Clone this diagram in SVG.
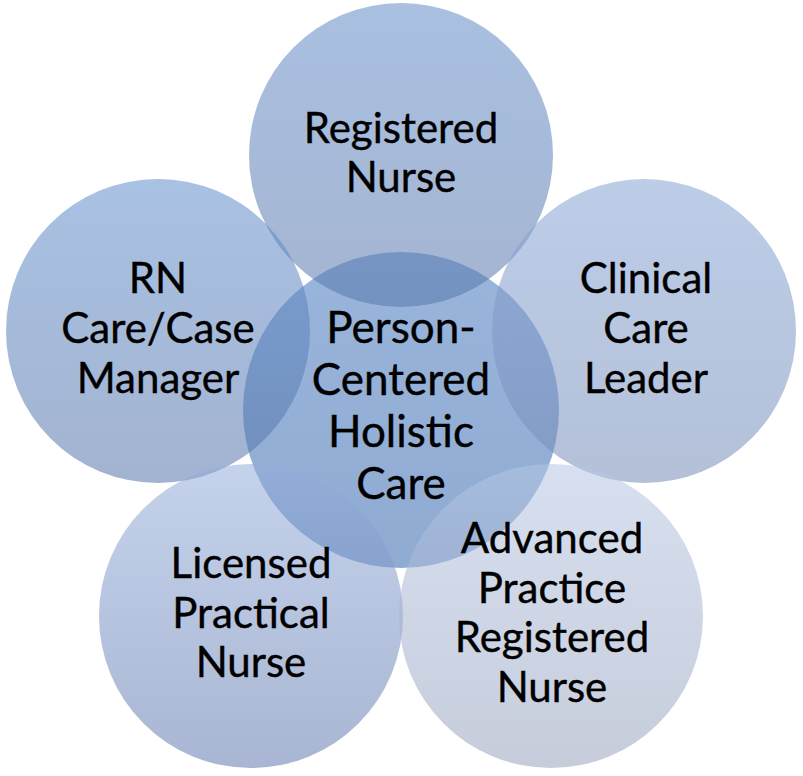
<svg xmlns="http://www.w3.org/2000/svg" width="803" height="776" viewBox="0 0 803 776">
  <defs>
    <linearGradient id="gTop" x1="0" y1="0" x2="0" y2="1">
      <stop offset="0" stop-color="#638cc8"/>
      <stop offset="1" stop-color="#5877ab"/>
    </linearGradient>
    <linearGradient id="gLeft" x1="0" y1="0" x2="0" y2="1">
      <stop offset="0" stop-color="#628ecc"/>
      <stop offset="1" stop-color="#5675aa"/>
    </linearGradient>
    <linearGradient id="gRight" x1="0" y1="0" x2="0" y2="1">
      <stop offset="0" stop-color="#87a4d5"/>
      <stop offset="1" stop-color="#758cb8"/>
    </linearGradient>
    <linearGradient id="gBL" x1="0" y1="0" x2="0" y2="1">
      <stop offset="0" stop-color="#94addb"/>
      <stop offset="1" stop-color="#617aaf"/>
    </linearGradient>
    <linearGradient id="gBR" x1="0" y1="0" x2="0" y2="1">
      <stop offset="0" stop-color="#b6c7e4"/>
      <stop offset="1" stop-color="#97a2bc"/>
    </linearGradient>
    <linearGradient id="gCenter" x1="0" y1="0" x2="0" y2="1">
      <stop offset="0" stop-color="#99b5db"/>
      <stop offset="1" stop-color="#8fabd2"/>
    </linearGradient>
  </defs>
  <style>
    .outer { fill-opacity: 0.55; }
    .lbl { font-family: Lato, "Liberation Sans", sans-serif; font-size: 42px; fill: #000; text-anchor: middle; stroke: #000; stroke-width: 0.4px; }
    .clbl { font-family: Lato, "Liberation Sans", sans-serif; font-size: 44px; fill: #000; text-anchor: middle; stroke: #000; stroke-width: 0.4px; }
  </style>
  <rect width="803" height="776" fill="#ffffff"/>
  <g id="connectors"></g>
  <g id="node-center">
    <circle cx="401" cy="410" r="158" fill="url(#gCenter)"/>
    <text class="clbl" x="401" y="343">Person-</text>
    <text class="clbl" x="401" y="395">Centered</text>
    <text class="clbl" x="401" y="447">Holistic</text>
    <text class="clbl" x="401" y="499">Care</text>
  </g>
  <g id="node-top">
    <circle class="outer" cx="401" cy="155" r="152" fill="url(#gTop)"/>
    <text class="lbl" x="401" y="143">Registered</text>
    <text class="lbl" x="401" y="192">Nurse</text>
  </g>
  <g id="node-left">
    <circle class="outer" cx="158" cy="331" r="152" fill="url(#gLeft)"/>
    <text class="lbl" x="158" y="293">RN</text>
    <text class="lbl" x="158" y="343">Care/Case</text>
    <text class="lbl" x="158" y="393">Manager</text>
  </g>
  <g id="node-right">
    <circle class="outer" cx="644" cy="331" r="152" fill="url(#gRight)"/>
    <text class="lbl" x="646" y="293">Clinical</text>
    <text class="lbl" x="646" y="343">Care</text>
    <text class="lbl" x="646" y="393">Leader</text>
  </g>
  <g id="node-bottom-left">
    <circle class="outer" cx="251" cy="616" r="152" fill="url(#gBL)"/>
    <text class="lbl" x="251" y="578">Licensed</text>
    <text class="lbl" x="251" y="628">Practical</text>
    <text class="lbl" x="251" y="677">Nurse</text>
  </g>
  <g id="node-bottom-right">
    <circle class="outer" cx="551" cy="616" r="152" fill="url(#gBR)"/>
    <text class="lbl" x="552" y="553">Advanced</text>
    <text class="lbl" x="552" y="603">Practice</text>
    <text class="lbl" x="552" y="652">Registered</text>
    <text class="lbl" x="552" y="702">Nurse</text>
  </g>
</svg>
